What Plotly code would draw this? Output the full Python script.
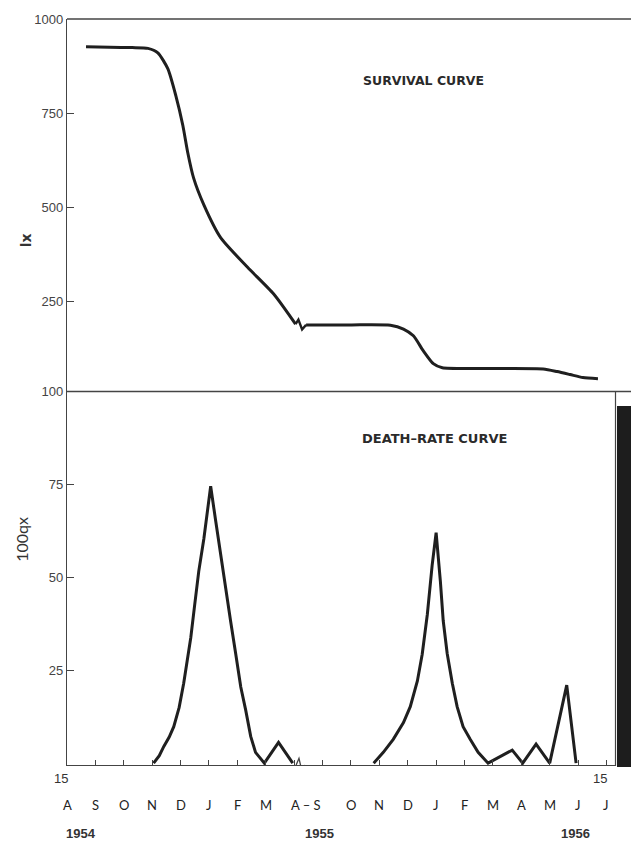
import plotly.graph_objects as go

# ---------------- data (x in "month units": Aug-15-1954 = 0, Apr 1955 = 8, break, Sep 1955 = 9 ... Jul 1956 = 19)
SURV_X1 = [0.67, 1.5, 2.3, 2.85, 3.2, 3.55, 3.83, 4.08, 4.25, 4.46, 4.82, 5.41, 6.36, 7.28, 8.05]
SURV_Y1 = [926, 925, 924, 922, 910, 868, 797, 717, 646, 577, 506, 419, 340, 269, 189]
SURV_X2 = [8.42, 10.0, 11.39, 11.85, 12.2, 12.55, 12.9, 13.22, 14.5, 16.77, 17.26, 17.72, 18.17, 18.7]
SURV_Y2 = [187, 187, 186, 176, 158, 118, 84, 73, 71, 70, 63, 55, 47, 44]

DEATH_X1 = [3.05, 3.25, 3.41, 3.6, 3.76, 3.95, 4.11, 4.25, 4.36, 4.5, 4.64, 4.82, 4.99, 5.06,
            5.24, 5.41, 5.59, 5.76, 5.94, 6.12, 6.29, 6.47, 6.64, 6.95, 7.45, 7.95]
DEATH_Y1 = [0, 2.0, 4.5, 7.0, 9.8, 15.0, 21.5, 28.5, 33.8, 42.8, 51.6, 60.4, 69.4, 74.5,
            65, 56, 47, 38.3, 29.5, 20.5, 14.4, 7.2, 2.9, 0, 5.6, 0]
DEATH_X2 = [10.8, 11.14, 11.49, 11.85, 12.09, 12.34, 12.51, 12.69, 12.86, 13.0,
            13.15, 13.25, 13.39, 13.57, 13.74, 13.95, 14.2, 14.48, 14.83,
            15.68, 16.05, 16.52, 17.0, 17.6, 17.93]
DEATH_Y2 = [0, 2.9, 6.4, 10.9, 15.2, 22.1, 29.3, 40.0, 53.2, 62,
            48.9, 38.3, 29.5, 21.5, 15.2, 9.8, 6.4, 2.9, 0,
            3.5, 0, 5.1, 0, 21, 0]

MONTH_POS = [0, 1, 2, 3, 4, 5, 6, 7, 8.4, 10, 11, 12, 13, 14, 15, 16, 17, 18, 19]
MONTH_LBL = ["A", "S", "O", "N", "D", "J", "F", "M", "A – S", "O", "N", "D", "J", "F", "M", "A", "M", "J", "J"]
YEAR_POS = [0.5, 8.9, 17.9]
YEAR_LBL = ["1954", "1955", "1956"]
DAY_POS = [0, 19]
DAY_LBL = ["15", "15"]
X_TICKS = list(range(1, 20))
BREAK_X = 8.22

LX_TICKS = [250, 500, 750, 1000]
QX_TICKS = [25, 50, 75, 100]

# ---------------- layout geometry
W, H = 631, 843
L, R, T, B = 67, 16, 13, 78
PW, PH = W - L - R, H - T - B


def px(xp):
    return (xp - L) / PW


def py(yp):
    return (H - B - yp) / PH


SPLIT = py(388.5)
INK = "#1f1f1f"
AX = "#444444"
NARROW = "Liberation Sans Narrow, Arial Narrow, sans-serif"

fig = go.Figure()
line_style = dict(color=INK, width=3)
fig.add_trace(go.Scatter(x=SURV_X1, y=SURV_Y1, mode="lines", line=dict(shape="spline", smoothing=0.6, **line_style),
                         xaxis="x", yaxis="y", hoverinfo="skip"))
fig.add_trace(go.Scatter(x=SURV_X2, y=SURV_Y2, mode="lines", line=dict(shape="spline", smoothing=0.6, **line_style),
                         xaxis="x", yaxis="y", hoverinfo="skip"))
fig.add_trace(go.Scatter(x=DEATH_X1, y=DEATH_Y1, mode="lines", line=dict(shape="linear", **line_style),
                         xaxis="x2", yaxis="y2", hoverinfo="skip"))
fig.add_trace(go.Scatter(x=DEATH_X2, y=DEATH_Y2, mode="lines", line=dict(shape="linear", **line_style),
                         xaxis="x2", yaxis="y2", hoverinfo="skip"))

shapes = []
# break glyph on survival curve (joins the two segments)
s0x, s0y = SURV_X1[-1], SURV_Y1[-1]
s1x, s1y = SURV_X2[0], SURV_Y2[0]
shapes.append(dict(type="path", xref="x", yref="y",
                   path=f"M {s0x},{s0y} L {BREAK_X - 0.07},{s0y + 12} L {BREAK_X + 0.06},{s1y - 12} L {s1x},{s1y}",
                   line=dict(color=INK, width=2.4)))
# break glyph on bottom x axis
shapes.append(dict(type="path", xref="x2", yref="y2",
                   path=f"M {BREAK_X - 0.15},-0.5 L {BREAK_X - 0.05},1.3 L {BREAK_X + 0.07},-2.7 L {BREAK_X + 0.17},-0.5",
                   line=dict(color=AX, width=1.3)))
# frame lines of the upper panel that run to the page edge
shapes.append(dict(type="line", xref="paper", yref="paper", x0=0, x1=px(W), y0=1, y1=1,
                   line=dict(color=AX, width=1.3)))
shapes.append(dict(type="line", xref="paper", yref="paper", x0=0, x1=px(W), y0=SPLIT, y1=SPLIT,
                   line=dict(color=AX, width=1.3)))
# right edge box and dark bar
shapes.append(dict(type="line", xref="paper", yref="paper", x0=px(615.5), x1=px(615.5), y0=py(766), y1=SPLIT,
                   line=dict(color=AX, width=1.2)))
shapes.append(dict(type="rect", xref="paper", yref="paper", x0=px(617), x1=px(W + 2), y0=py(767), y1=py(403),
                   line=dict(width=0), fillcolor="#1d1d1d"))

ann = []
C = dict(xanchor="center", yanchor="middle", showarrow=False)
for pos, lbl in zip(MONTH_POS, MONTH_LBL):
    ann.append(dict(x=pos, y=0, xref="x2", yref="paper", text=lbl, yshift=-40,
                    font=dict(family="Lato, sans-serif", size=13, color="#222"), **C))
for pos, lbl in zip(YEAR_POS, YEAR_LBL):
    ann.append(dict(x=pos, y=0, xref="x2", yref="paper", text=f"<b>{lbl}</b>", yshift=-68,
                    font=dict(family=NARROW, size=13, color="#333"), **C))
for pos, lbl in zip(DAY_POS, DAY_LBL):
    ann.append(dict(x=pos, y=0, xref="x2", yref="paper", text=lbl, yshift=-13, xshift=-6,
                    font=dict(family=NARROW, size=13, color="#333"), **C))
ann.append(dict(x=px(423), y=py(75), xref="paper", yref="paper", text="<b>SURVIVAL CURVE</b>",
                font=dict(family="DejaVu Sans", size=12.5, color="#2a2a2a"), **C))
ann.append(dict(x=px(434), y=py(436), xref="paper", yref="paper", text="<b>DEATH–RATE CURVE</b>",
                font=dict(family="DejaVu Sans", size=13, color="#2a2a2a"), **C))
ann.append(dict(x=px(26), y=py(236), xref="paper", yref="paper", text="<b>lx</b>", textangle=-90,
                font=dict(family="DejaVu Sans", size=14, color="#333"), **C))
ann.append(dict(x=px(22), y=py(538), xref="paper", yref="paper", text="100qx", textangle=-90,
                font=dict(family="Lato, sans-serif", size=16, color="#333"), **C))

ytick_font = dict(family=NARROW, size=13, color="#444")
fig.update_layout(
    width=W, height=H, margin=dict(l=L, r=R, t=T, b=B),
    paper_bgcolor="white", plot_bgcolor="white", showlegend=False,
    xaxis=dict(domain=[0, 1], anchor="y", range=[0, 19.3], visible=False),
    xaxis2=dict(domain=[0, 1], anchor="y2", range=[0, 19.3], showline=True, linecolor=AX, linewidth=1.3,
                ticks="inside", tickvals=X_TICKS, ticklen=5, tickwidth=1, tickcolor=AX,
                showticklabels=False, showgrid=False, zeroline=False),
    yaxis=dict(domain=[SPLIT, 1], anchor="x", range=[10, 1000], tickvals=LX_TICKS, ticks="inside", ticklen=7,
               tickwidth=1, tickcolor=AX, showline=True, linecolor=AX, linewidth=1.3, tickfont=ytick_font,
               showgrid=False, zeroline=False),
    yaxis2=dict(domain=[0, SPLIT], anchor="x2", range=[-0.5, 100], tickvals=QX_TICKS, ticks="inside", ticklen=7,
                tickwidth=1, tickcolor=AX, showline=True, linecolor=AX, linewidth=1.3, tickfont=ytick_font,
                showgrid=False, zeroline=False),
    shapes=shapes, annotations=ann,
)

fig.write_html("out.html")
